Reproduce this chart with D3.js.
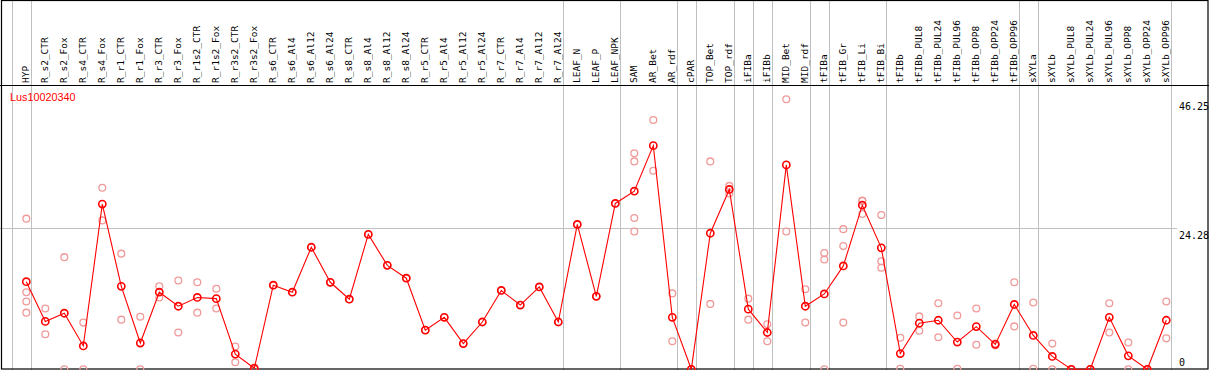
<!DOCTYPE html>
<html>
<head>
<meta charset="utf-8">
<script src="https://cdn.jsdelivr.net/npm/d3@7"></script>
<style>
  body { margin: 0; background: #fff; }
  svg { display: block; }
</style>
</head>
<body>
<div id="chart"></div>
<script>
const W = 1209, H = 370;

const gene = "Lus10020340";

const samples = [
  "HYP", "R_s2_CTR", "R_s2_Fox", "R_s4_CTR", "R_s4_Fox", "R_r1_CTR", "R_r1_Fox",
  "R_r3_CTR", "R_r3_Fox", "R_r1s2_CTR", "R_r1s2_Fox", "R_r3s2_CTR", "R_r3s2_Fox",
  "R_s6_CTR", "R_s6_Al4", "R_s6_Al12", "R_s6_Al24", "R_s8_CTR", "R_s8_Al4",
  "R_s8_Al12", "R_s8_Al24", "R_r5_CTR", "R_r5_Al4", "R_r5_Al12", "R_r5_Al24",
  "R_r7_CTR", "R_r7_Al4", "R_r7_Al12", "R_r7_Al24", "LEAF_N", "LEAF_P", "LEAF_NPK",
  "SAM", "AR_Bet", "AR_rdf", "cPAR", "TOP_Bet", "TOP_rdf", "iFIBa", "iFIBb",
  "MID_Bet", "MID_rdf", "tFIBa", "tFIB_Gr", "tFIB_Li", "tFIB_Bi", "tFIBb",
  "tFIBb_PUL8", "tFIBb_PUL24", "tFIBb_PUL96", "tFIBb_OPP8", "tFIBb_OPP24", "tFIBb_OPP96",
  "sXYLa", "sXYLb", "sXYLb_PUL8", "sXYLb_PUL24", "sXYLb_PUL96", "sXYLb_OPP8",
  "sXYLb_OPP24", "sXYLb_OPP96"
];

// mean expression per sample
const means = [
  15.0, 8.2, 9.6, 4.0, 28.3, 14.2, 4.5, 13.2, 10.8, 12.3, 12.1, 2.6, 0.17,
  14.4, 13.2, 20.9, 14.9, 12.0, 23.1, 17.8, 15.6, 6.7, 8.9, 4.4, 8.1,
  13.5, 11.0, 14.1, 8.1, 24.8, 12.5, 28.4,
  30.5, 38.3, 8.9, 0, 23.3, 30.8, 10.3, 6.3,
  35.0, 10.8, 12.9, 17.7, 28.1, 20.8, 2.7,
  7.9, 8.4, 4.67, 7.3, 4.27, 11.1,
  5.8, 2.2, 0, 0, 8.9, 2.3, 0, 8.4
];

// individual replicates per sample
const replicates = [
  [25.8, 13.2, 11.6, 9.7], [10.4, 6.0], [19.2, 0], [8.0, 0], [31.1, 25.5],
  [19.8, 8.5], [9.0, 0], [14.2, 12.3], [15.2, 6.3], [14.9, 9.7], [13.8, 10.4],
  [3.9, 1.2], [0.3, 0],
  [14.4], [13.2], [20.9], [14.9], [12.0], [23.1], [17.8], [15.6],
  [6.7], [8.9], [4.4], [8.1], [13.5], [11.0], [14.1], [8.1],
  [24.8], [12.5], [28.4],
  [37.0, 35.6, 25.9, 23.6], [42.7, 34.0], [13.0, 4.8], [0, 0], [35.6, 11.2],
  [31.4, 30.1], [12.1, 8.5], [7.7, 4.8], [46.25, 23.6], [13.7, 8.0],
  [19.9, 18.8, 0], [24.0, 21.1, 8.0], [28.8, 26.6, 28.9], [26.4, 18.5, 17.4],
  [5.4, 0.1],
  [9.06, 6.6], [11.3, 5.5], [9.2, 0.1], [10.4, 4.2], [4.4, 4.1], [14.9, 7.35],
  [11.45, 0.1], [4.4, 0], [0, 0], [0, 0], [11.3, 6.3], [4.6, 0], [0, 0], [11.6, 5.3]
];

// index of last sample in each group (vertical separators), -1 = before first
const groupEnds = [-1, 0, 28, 31, 34, 35, 37, 38, 39, 41, 42, 45, 52, 53, 60];

const yTicks = [46.25, 24.28, 0];

const svg = d3.select("#chart").append("svg")
  .attr("width", W)
  .attr("height", H);

const x = d3.scaleBand()
  .domain(d3.range(-1, samples.length))
  .range([-2.2, 1175.8])
  .padding(0);
const cx = (i) => x(i) + x.bandwidth() / 2;

const y = d3.scaleLinear()
  .domain([0, 46.25])
  .range([369.3, 99.2]);

const grey = "#c0c0c0";

// vertical separators
svg.selectAll(".vsep")
  .data(groupEnds)
  .enter()
  .append("line")
  .attr("class", "vsep")
  .attr("x1", (d) => Math.round(cx(d) + 4.4) + 0.5)
  .attr("x2", (d) => Math.round(cx(d) + 4.4) + 0.5)
  .attr("y1", 0)
  .attr("y2", H)
  .attr("stroke", grey)
  .attr("stroke-width", 1);

// horizontal mid gridline
svg.append("line")
  .attr("x1", 0)
  .attr("x2", 1177)
  .attr("y1", Math.round(y(24.28)) + 0.5)
  .attr("y2", Math.round(y(24.28)) + 0.5)
  .attr("stroke", grey);

// frame
svg.append("rect")
  .attr("x", 1.5).attr("y", 0.5)
  .attr("width", W - 2.5).attr("height", H - 1.5)
  .attr("fill", "none")
  .attr("stroke", "#000")
  .attr("stroke-width", 1.2);
svg.append("line")
  .attr("x1", 0).attr("x2", W)
  .attr("y1", 85.5).attr("y2", 85.5)
  .attr("stroke", "#000")
  .attr("stroke-width", 1.2);

// sample labels, rotated
svg.selectAll(".lbl")
  .data(samples)
  .enter()
  .append("text")
  .attr("class", "lbl")
  .attr("transform", (d, i) => `translate(${cx(i) + 3},83) rotate(-90)`)
  .attr("font-family", "DejaVu Sans Mono, monospace")
  .attr("font-size", 9.5)
  .attr("fill", "#000")
  .text((d) => d);

// y value labels on the right
svg.selectAll(".ylbl")
  .data(yTicks)
  .enter()
  .append("text")
  .attr("class", "ylbl")
  .attr("x", 1179)
  .attr("y", (d) => Math.min(y(d) + 11, 366))
  .attr("font-family", "DejaVu Sans Mono, monospace")
  .attr("font-size", 10)
  .attr("fill", "#000")
  .text((d) => d);

// gene name
svg.append("text")
  .attr("x", 10)
  .attr("y", 101)
  .attr("font-family", "Liberation Sans, Arial, sans-serif")
  .attr("font-size", 10.8)
  .attr("fill", "red")
  .text(gene);

// replicate points
const reps = [];
replicates.forEach((arr, i) => arr.forEach((v) => reps.push({ i: i, v: v })));

svg.selectAll(".rep")
  .data(reps)
  .enter()
  .append("circle")
  .attr("class", "rep")
  .attr("cx", (d) => cx(d.i))
  .attr("cy", (d) => y(d.v))
  .attr("r", 3.4)
  .attr("fill", "none")
  .attr("stroke", "#f09a9a")
  .attr("stroke-width", 1.3);

// mean line
const line = d3.line()
  .x((d, i) => cx(i))
  .y((d) => y(d));

svg.append("path")
  .datum(means)
  .attr("d", line)
  .attr("fill", "none")
  .attr("stroke", "red")
  .attr("stroke-width", 1.1);

svg.selectAll(".mean")
  .data(means)
  .enter()
  .append("circle")
  .attr("class", "mean")
  .attr("cx", (d, i) => cx(i))
  .attr("cy", (d) => y(d))
  .attr("r", 3.6)
  .attr("fill", "none")
  .attr("stroke", "red")
  .attr("stroke-width", 1.6);
</script>
</body>
</html>
